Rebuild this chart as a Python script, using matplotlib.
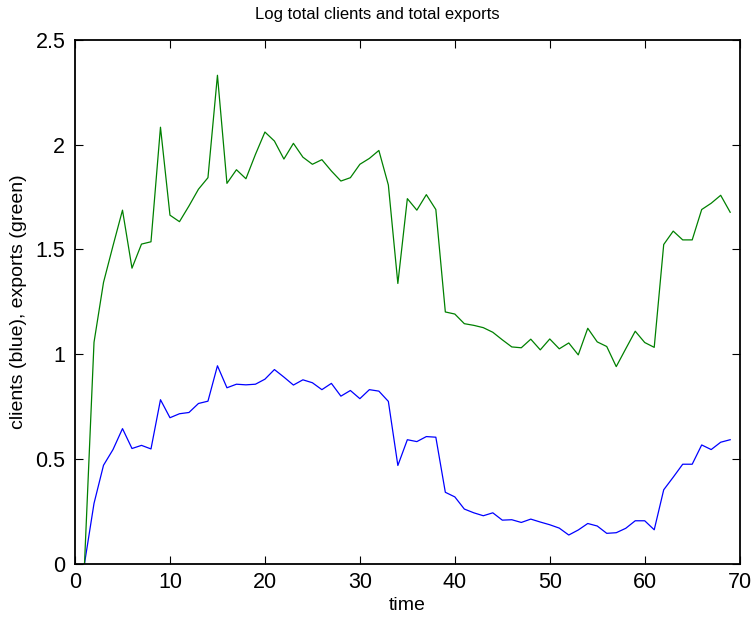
import numpy as np
import matplotlib
matplotlib.use("Agg")
from matplotlib import pyplot as plt

plt.rcParams['font.family'] = ['Liberation Sans', 'DejaVu Sans']

# time steps 1..69
t = np.arange(1, 70)

clients = [0.0, 0.287, 0.469, 0.544, 0.644, 0.549, 0.564, 0.547, 0.782, 0.696,
           0.715, 0.721, 0.764, 0.775, 0.944, 0.839, 0.856, 0.853, 0.856, 0.880,
           0.926, 0.890, 0.852, 0.877, 0.863, 0.830, 0.860, 0.799, 0.826, 0.787,
           0.830, 0.823, 0.774, 0.468, 0.591, 0.582, 0.606, 0.603, 0.340, 0.318,
           0.260, 0.242, 0.228, 0.242, 0.207, 0.209, 0.196, 0.212, 0.198, 0.185,
           0.169, 0.136, 0.160, 0.191, 0.179, 0.144, 0.147, 0.168, 0.204, 0.204,
           0.161, 0.352, 0.412, 0.474, 0.474, 0.566, 0.544, 0.579, 0.591]

exports = [0.0, 1.056, 1.342, 1.517, 1.687, 1.410, 1.525, 1.536, 2.083, 1.663,
           1.632, 1.707, 1.787, 1.842, 2.331, 1.815, 1.880, 1.837, 1.953, 2.060,
           2.017, 1.931, 2.006, 1.940, 1.906, 1.928, 1.874, 1.826, 1.842, 1.906,
           1.934, 1.972, 1.807, 1.337, 1.742, 1.687, 1.761, 1.690, 1.201, 1.191,
           1.145, 1.137, 1.126, 1.104, 1.068, 1.034, 1.030, 1.071, 1.020, 1.072,
           1.025, 1.053, 0.996, 1.123, 1.058, 1.036, 0.940, 1.025, 1.109, 1.055,
           1.032, 1.523, 1.587, 1.545, 1.545, 1.690, 1.720, 1.758, 1.677]

fig = plt.figure(figsize=(7.54, 6.23), dpi=100)
ax = fig.add_axes([0.0995, 0.0955, 0.8815, 0.8405])

ax.plot(t, clients, color=(0, 0, 1), lw=0.9)
ax.plot(t, exports, color=(0, 0.5, 0), lw=0.9)

ax.set_xlim(0, 70)
ax.set_ylim(0, 2.5)
ax.set_xticks(range(0, 71, 10))
ax.set_yticks([0, 0.5, 1, 1.5, 2, 2.5])
ax.set_yticklabels(['0', '0.5', '1', '1.5', '2', '2.5'])

ax.tick_params(direction='in', top=True, right=True, length=6, width=0.8,
               labelsize=15.5)
ax.tick_params(axis='y', pad=7)
ax.tick_params(axis='x', pad=6)
for s in ax.spines.values():
    s.set_linewidth(1.3)

# title sits centred on the figure, not on the axes
fig.text(0.5, 1 - 14 / 623, 'Log total clients and total exports',
         fontsize=12, ha='center', va='center')
ax.set_xlabel('time', fontsize=14, labelpad=3)
ax.set_ylabel('clients (blue), exports (green)', fontsize=14, labelpad=6)

fig.savefig('out.png', dpi=100)
